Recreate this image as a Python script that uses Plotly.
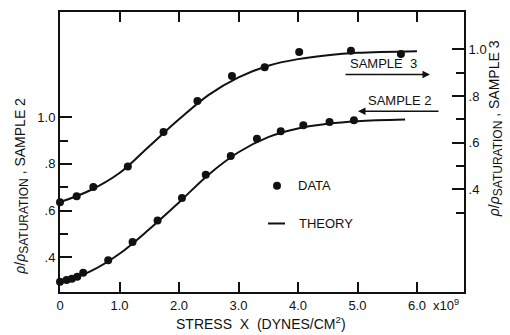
import plotly.graph_objects as go

# ---- data ----
# Sample 2 (left axis)
stress_s2 = [0.0, 0.11, 0.20, 0.29, 0.39, 0.81, 1.22, 1.64, 2.05, 2.45, 2.87, 3.31, 3.71, 4.09, 4.53, 4.94]
rho_s2 = [0.295, 0.302, 0.308, 0.316, 0.333, 0.387, 0.465, 0.557, 0.654, 0.753, 0.834, 0.908, 0.940, 0.966, 0.980, 0.987]
theory_x2 = [0.0, 0.5, 1.0, 1.5, 2.0, 2.5, 3.0, 3.5, 4.0, 4.5, 5.0, 5.8]
theory_s2 = [0.29, 0.338, 0.415, 0.52, 0.635, 0.755, 0.85, 0.915, 0.952, 0.972, 0.983, 0.99]

# Sample 3 (right axis)
stress_s3 = [0.0, 0.28, 0.56, 1.14, 1.74, 2.31, 2.89, 3.44, 4.02, 4.89, 5.73]
rho_s3 = [0.345, 0.370, 0.410, 0.498, 0.646, 0.779, 0.886, 0.923, 0.989, 0.994, 0.980]
theory_x3 = [0.0, 0.5, 1.0, 1.5, 2.0, 2.5, 3.0, 3.5, 4.0, 4.5, 5.0, 6.0]
theory_s3 = [0.345, 0.395, 0.47, 0.585, 0.70, 0.805, 0.88, 0.93, 0.958, 0.975, 0.985, 0.992]

x_ticks = [0, 1, 2, 3, 4, 5, 6]
x_ticktext = ["0", "1.0", "2.0", "3.0", "4.0", "5.0", "6.0"]
y_ticks = [0.4, 0.6, 0.8, 1.0]
y_ticktext = [".4", ".6", ".8", "1.0"]
y_minor = [0.3, 0.5, 0.7, 0.9]

FONT = "Liberation Sans, Arial, sans-serif"
BLACK = "#111111"

fig = go.Figure()
fig.add_trace(go.Scatter(x=theory_x2, y=theory_s2, mode="lines",
                         line=dict(color=BLACK, width=2, shape="spline", smoothing=1.0),
                         showlegend=False, hoverinfo="skip"))
fig.add_trace(go.Scatter(x=stress_s2, y=rho_s2, mode="markers",
                         marker=dict(color=BLACK, size=8), cliponaxis=False,
                         showlegend=False))
fig.add_trace(go.Scatter(x=theory_x3, y=theory_s3, mode="lines", yaxis="y2",
                         line=dict(color=BLACK, width=2, shape="spline", smoothing=1.0),
                         showlegend=False, hoverinfo="skip"))
fig.add_trace(go.Scatter(x=stress_s3, y=rho_s3, mode="markers", yaxis="y2",
                         marker=dict(color=BLACK, size=8), cliponaxis=False,
                         showlegend=False))

axis_common = dict(showgrid=False, zeroline=False, showline=True, linecolor=BLACK,
                   linewidth=2, ticks="inside", tickcolor=BLACK, tickwidth=1.5,
                   tickfont=dict(family=FONT, size=13, color=BLACK))

fig.update_layout(
    width=510, height=335,
    margin=dict(l=60, r=46, t=10, b=43),
    paper_bgcolor="white", plot_bgcolor="white",
    font=dict(family=FONT, size=13, color=BLACK),
    showlegend=False,
    xaxis=dict(range=[0, 6.79], tickmode="array", tickvals=x_ticks, ticktext=x_ticktext,
               ticklen=10, mirror="ticks", **axis_common),
    yaxis=dict(range=[0.251, 1.451], tickmode="array", tickvals=y_ticks, ticktext=y_ticktext,
               ticklen=12, minor=dict(tickvals=y_minor, ticks="inside", ticklen=8,
                                      tickcolor=BLACK, tickwidth=1.5),
               **axis_common),
    yaxis2=dict(range=[-0.040, 1.160], overlaying="y", side="right", anchor="x",
                tickmode="array", tickvals=y_ticks, ticktext=y_ticktext,
                ticklen=12, minor=dict(tickvals=y_minor, ticks="inside", ticklen=8,
                                       tickcolor=BLACK, tickwidth=1.5),
                **axis_common),
)

def px_x(p):
    return (p - 60) / 404.0

def px_y(p):
    return (292 - p) / 282.0

SUBTXT = '<i>ρ</i>/<i>ρ</i><sub><span style="font-size:12px">SATURATION</span></sub>'

ann = []
# x10^9 suffix
ann.append(dict(x=px_x(431), y=px_y(305), xref="paper", yref="paper", xanchor="left",
                yanchor="middle", text="x10<sup>9</sup>", showarrow=False,
                font=dict(family=FONT, size=13)))
# x-axis title
ann.append(dict(x=px_x(261), y=px_y(323), xref="paper", yref="paper", xanchor="center",
                yanchor="middle", text="STRESS  X  (DYNES/CM<sup>2</sup>)", showarrow=False,
                font=dict(family=FONT, size=14)))
# left y title
ann.append(dict(x=px_x(22), y=px_y(186), xref="paper", yref="paper", xanchor="center",
                yanchor="middle", textangle=-90,
                text=SUBTXT + " , SAMPLE 2", showarrow=False,
                font=dict(family=FONT, size=14)))
# right y title
ann.append(dict(x=px_x(495), y=px_y(128), xref="paper", yref="paper", xanchor="center",
                yanchor="middle", textangle=-90,
                text=SUBTXT + " , SAMPLE 3", showarrow=False,
                font=dict(family=FONT, size=14)))
# sample labels
ann.append(dict(x=px_x(383), y=px_y(62), xref="paper", yref="paper", xanchor="center",
                yanchor="middle", text="SAMPLE  3", showarrow=False,
                font=dict(family=FONT, size=13)))
ann.append(dict(x=px_x(400), y=px_y(99), xref="paper", yref="paper", xanchor="center",
                yanchor="middle", text="SAMPLE 2", showarrow=False,
                font=dict(family=FONT, size=13)))
# arrows
ann.append(dict(x=px_x(430), y=px_y(73), xref="paper", yref="paper", ax=-86, ay=0,
                axref="pixel", ayref="pixel", text="", showarrow=True, arrowhead=2,
                arrowsize=1, arrowwidth=1.5, arrowcolor=BLACK))
ann.append(dict(x=px_x(358), y=px_y(110), xref="paper", yref="paper", ax=82, ay=0,
                axref="pixel", ayref="pixel", text="", showarrow=True, arrowhead=2,
                arrowsize=1, arrowwidth=1.5, arrowcolor=BLACK))
# key text
ann.append(dict(x=px_x(296), y=px_y(185), xref="paper", yref="paper", xanchor="left",
                yanchor="middle", text="DATA", showarrow=False,
                font=dict(family=FONT, size=13)))
ann.append(dict(x=px_x(297), y=px_y(223), xref="paper", yref="paper", xanchor="left",
                yanchor="middle", text="THEORY", showarrow=False,
                font=dict(family=FONT, size=13)))
fig.update_layout(annotations=ann)

shapes = [
    dict(type="circle", xref="paper", yref="paper", x0=px_x(273), x1=px_x(281),
         y0=px_y(189), y1=px_y(181), fillcolor=BLACK, line=dict(color=BLACK, width=0)),
    dict(type="line", xref="paper", yref="paper", x0=px_x(268), x1=px_x(285),
         y0=px_y(223), y1=px_y(223), line=dict(color=BLACK, width=2)),
]
fig.update_layout(shapes=shapes)

fig.write_html("out.html", config={"displayModeBar": False},
               post_script="document.body.style.margin='0';document.body.style.overflow='hidden';")
